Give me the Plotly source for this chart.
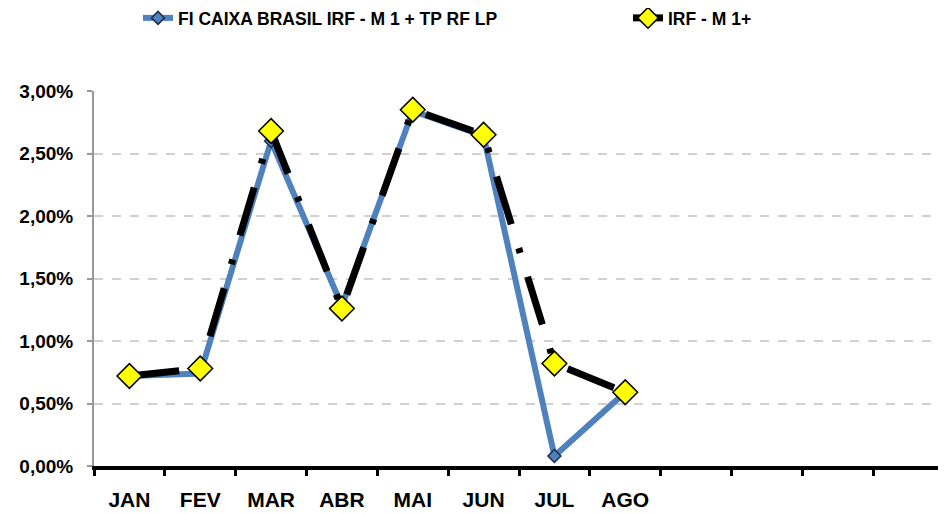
import plotly.graph_objects as go

months = ["JAN", "FEV", "MAR", "ABR", "MAI", "JUN", "JUL", "AGO", "SET", "OUT", "NOV", "DEZ"]
shown_labels = ["JAN", "FEV", "MAR", "ABR", "MAI", "JUN", "JUL", "AGO", "", "", "", ""]
data_months = ["JAN", "FEV", "MAR", "ABR", "MAI", "JUN", "JUL", "AGO"]

fundo_name = "FI CAIXA BRASIL IRF - M 1 + TP RF LP"
fundo = [0.72, 0.74, 2.60, 1.28, 2.84, 2.64, 0.08, 0.59]

bench_name = "IRF - M 1+"
bench = [0.72, 0.78, 2.68, 1.26, 2.85, 2.65, 0.82, 0.59]

ytick_vals = [0, 0.5, 1.0, 1.5, 2.0, 2.5, 3.0]
ytick_text = ["0,00%", "0,50%", "1,00%", "1,50%", "2,00%", "2,50%", "3,00%"]

FONT = "Liberation Sans"
legend_font = dict(family=FONT, size=17.5, color="black", weight="bold")

fig = go.Figure()
fig.add_trace(go.Scatter(
    x=data_months, y=fundo, name=fundo_name, mode="lines+markers",
    line=dict(color="#4F81BD", width=6),
    marker=dict(symbol="diamond", size=10, color="#4F81BD",
                line=dict(color="#1F2D4A", width=1.5)),
    legend="legend",
))
fig.add_trace(go.Scatter(
    x=data_months, y=bench, name=bench_name, mode="lines+markers",
    line=dict(color="#000000", width=7, dash="50px,25px,5px,25px"),
    marker=dict(symbol="diamond", size=19, color="#FFFF00",
                line=dict(color="#000000", width=1.5)),
    legend="legend2",
))

fig.update_layout(
    width=938, height=505,
    margin=dict(l=86, r=2, t=83, b=47),
    paper_bgcolor="white", plot_bgcolor="white",
    font=dict(family=FONT, size=14, color="black"),
    showlegend=True,
    legend=dict(orientation="h", xref="container", yref="container",
                x=130 / 938, y=1 - 10 / 505, xanchor="left", yanchor="middle",
                font=legend_font, bgcolor="rgba(0,0,0,0)"),
    legend2=dict(orientation="h", xref="container", yref="container",
                 x=620 / 938, y=1 - 10 / 505, xanchor="left", yanchor="middle",
                 font=legend_font, bgcolor="rgba(0,0,0,0)"),
    xaxis=dict(
        type="category", categoryorder="array", categoryarray=months,
        range=[-0.5, 11.5], automargin=False,
        tickmode="array", tickvals=months, ticktext=shown_labels,
        tickson="boundaries", ticks="outside", ticklen=6, tickwidth=3, tickcolor="black",
        showline=True, linecolor="black", linewidth=4,
        showgrid=False, zeroline=False,
        tickfont=dict(family=FONT, size=21, color="black", weight="bold"),
        ticklabelstandoff=12,
    ),
    yaxis=dict(
        range=[0, 3.0], tickvals=ytick_vals, ticktext=ytick_text, automargin=False,
        ticks="outside", ticklen=5, tickwidth=1.5, tickcolor="#999999",
        showline=True, linecolor="#999999", linewidth=2,
        showgrid=True, gridcolor="#D0D0D0", gridwidth=1.5, griddash="dash",
        zeroline=False,
        tickfont=dict(family=FONT, size=19, color="black", weight="bold"),
        ticklabelstandoff=10,
    ),
)

fig.write_html("out.html")
